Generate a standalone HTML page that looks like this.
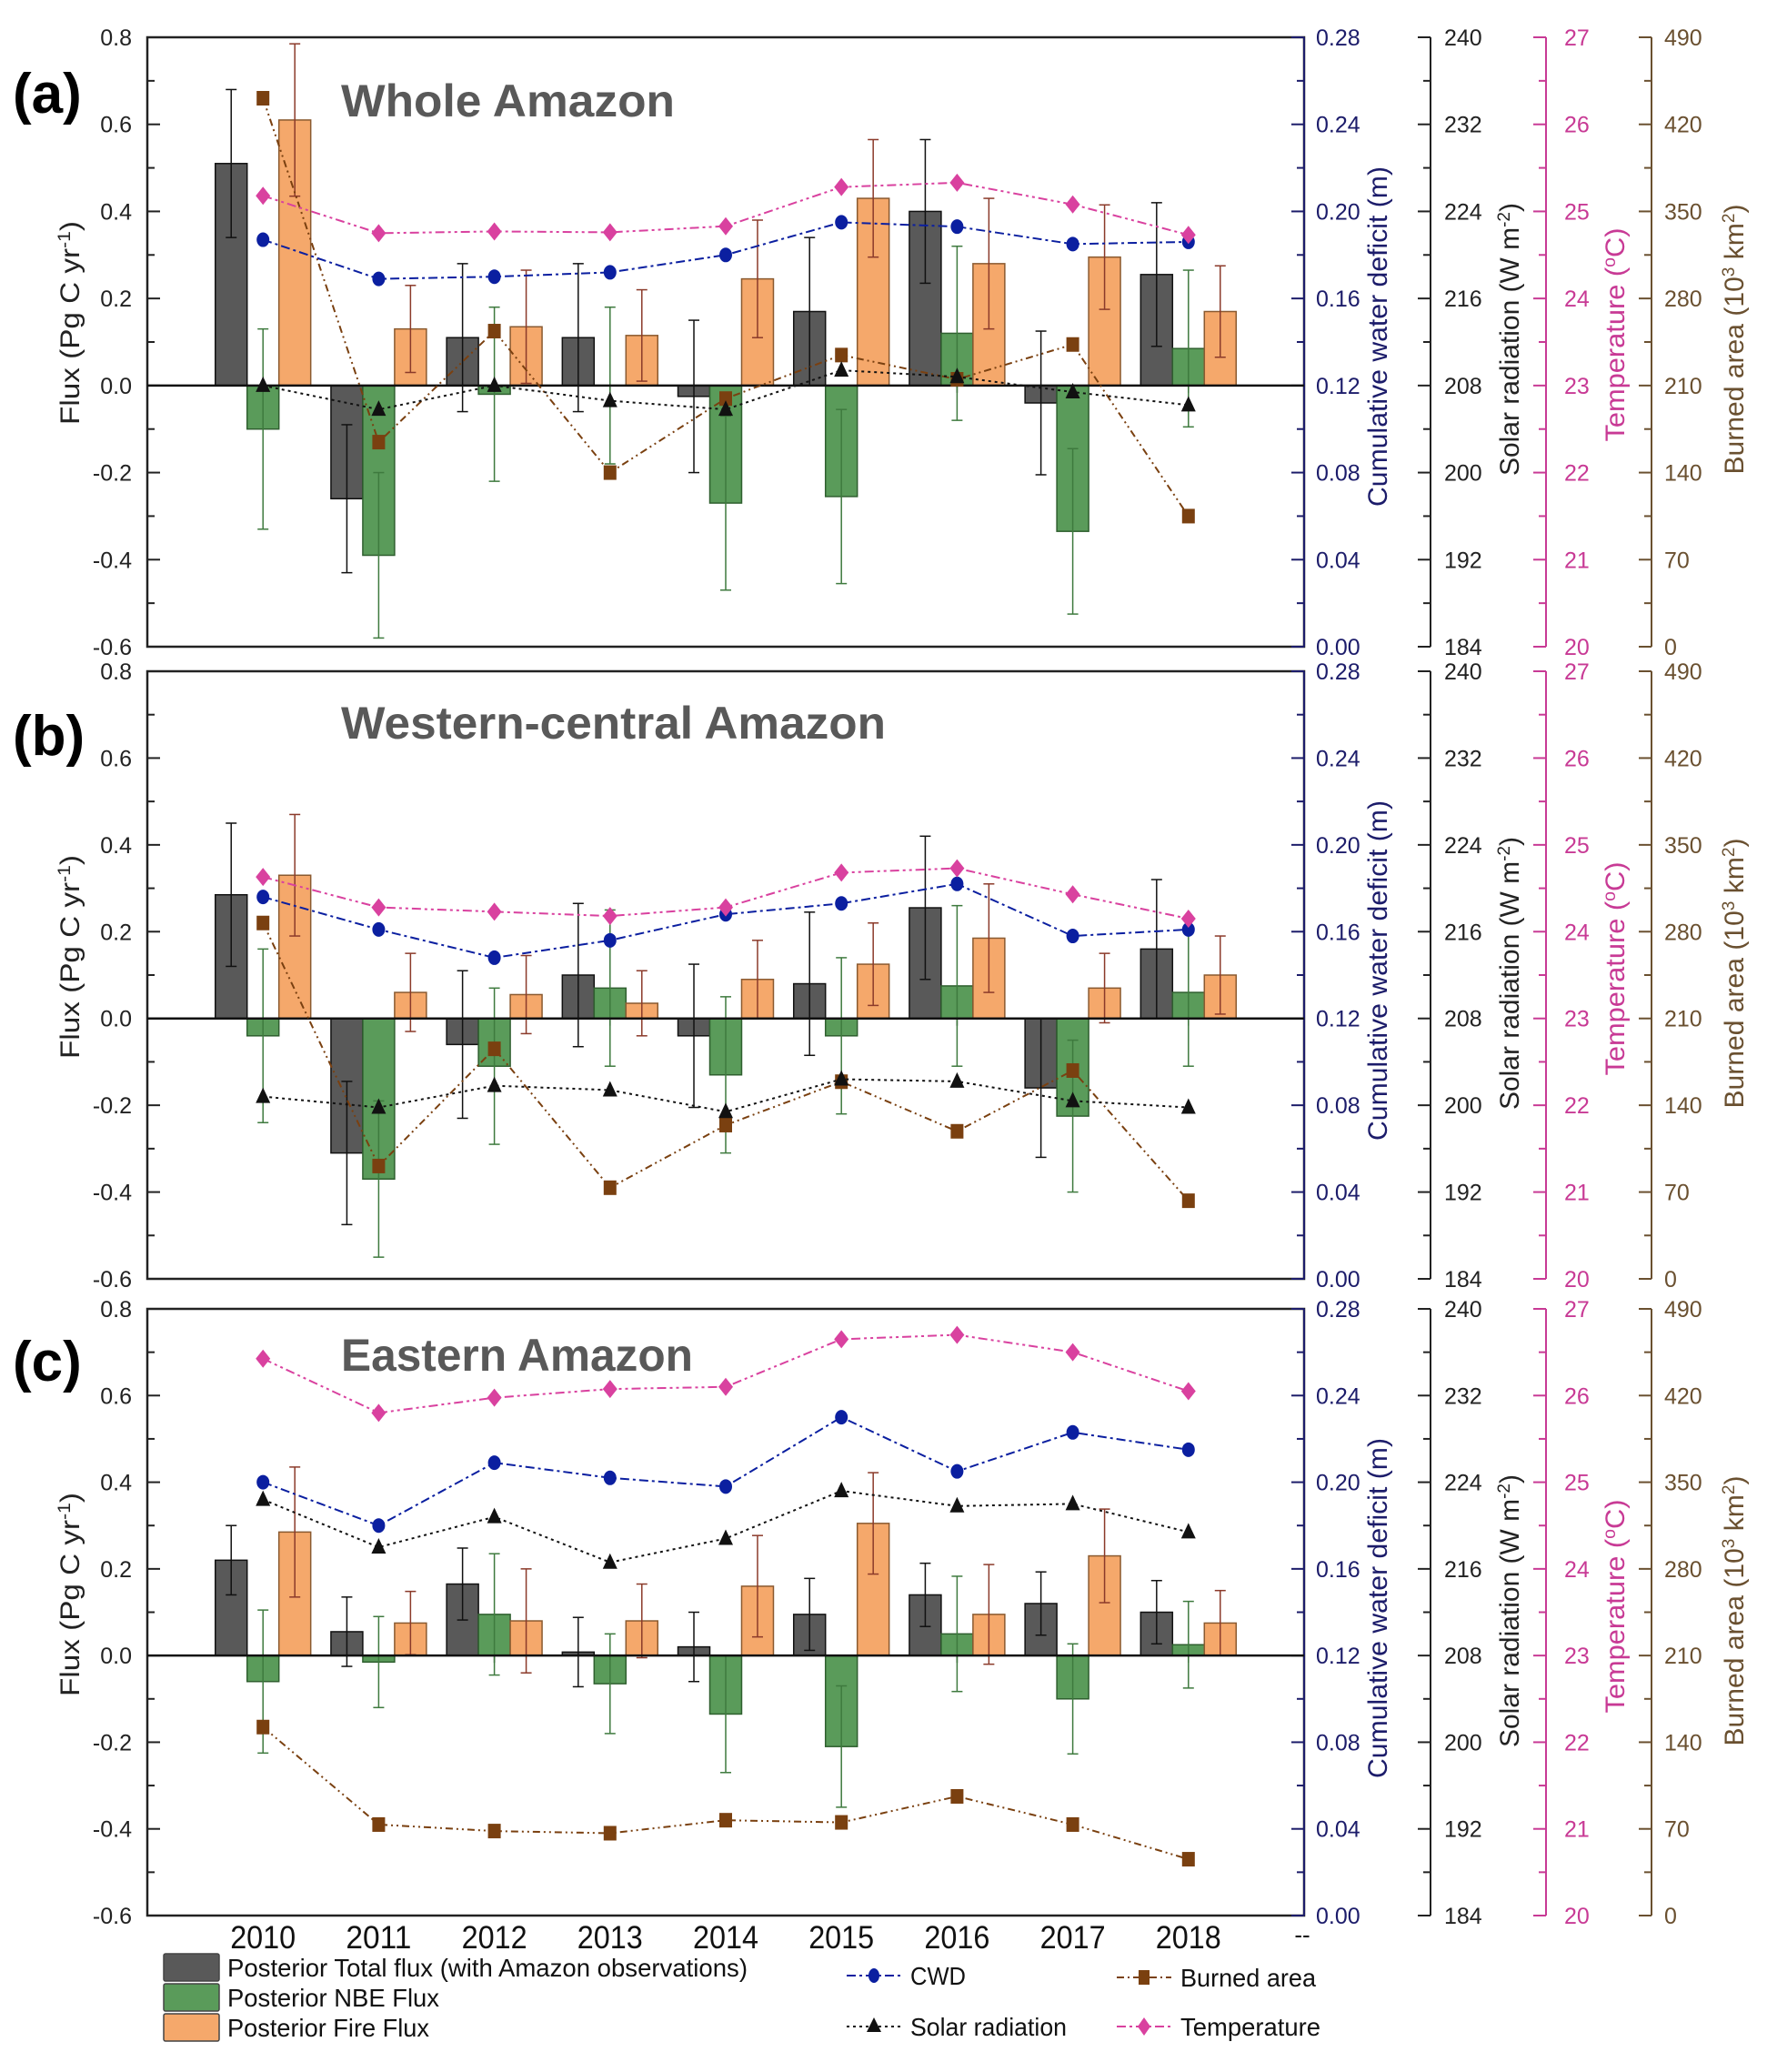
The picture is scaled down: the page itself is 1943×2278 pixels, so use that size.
<!DOCTYPE html>
<html><head><meta charset="utf-8"><style>
html,body{margin:0;padding:0;background:#fff}
svg{display:block}
text{font-family:"Liberation Sans Narrow","Liberation Sans",sans-serif}
</style></head><body>
<svg id="chart" xmlns="http://www.w3.org/2000/svg" width="1943" height="2278" viewBox="0 0 1943 2278"></svg>
<script>
const years = [2010,2011,2012,2013,2014,2015,2016,2017,2018];
const fluxTicks = [0.8,0.6,0.4,0.2,0.0,-0.2,-0.4,-0.6];
const fluxTickLabels = ["0.8","0.6","0.4","0.2","0.0","-0.2","-0.4","-0.6"];
const cwdTickLabels = ["0.28","0.24","0.20","0.16","0.12","0.08","0.04","0.00"];
const solarTickLabels = ["240","232","224","216","208","200","192","184"];
const tempTickLabels = ["27","26","25","24","23","22","21","20"];
const burnTickLabels = ["490","420","350","280","210","140","70","0"];
const panelTitles = ["Whole Amazon","Western-central Amazon","Eastern Amazon"];
const panelLetters = ["(a)","(b)","(c)"];

// Panel (a)
const totalA = [0.51,-0.26,0.11,0.11,-0.025,0.17,0.40,-0.04,0.255];
const totalErrA = [0.17,0.17,0.17,0.17,0.175,0.17,0.165,0.165,0.165];
const nbeA = [-0.10,-0.39,-0.02,0.0,-0.27,-0.255,0.12,-0.335,0.085];
const nbeErrA = [0.23,0.19,0.20,0.18,0.20,0.20,0.20,0.19,0.18];
const fireA = [0.61,0.13,0.135,0.115,0.245,0.43,0.28,0.295,0.17];
const fireErrA = [0.175,0.10,0.13,0.105,0.135,0.135,0.15,0.12,0.105];
const cwdA = [0.187,0.169,0.170,0.172,0.180,0.195,0.193,0.185,0.186];
const solarA = [208,205.8,208,206.6,205.8,209.4,208.8,207.4,206.2];
const tempA = [25.18,24.75,24.77,24.76,24.83,25.28,25.33,25.08,24.73];
const burnA = [441,164.5,253.75,140,199.5,234.5,215,243,105];
// Panel (b)
const totalB = [0.285,-0.31,-0.06,0.10,-0.04,0.08,0.255,-0.16,0.16];
const totalErrB = [0.165,0.165,0.17,0.165,0.165,0.165,0.165,0.16,0.16];
const nbeB = [-0.04,-0.37,-0.11,0.07,-0.13,-0.04,0.075,-0.225,0.06];
const nbeErrB = [0.20,0.18,0.18,0.18,0.18,0.18,0.185,0.175,0.17];
const fireB = [0.33,0.06,0.055,0.035,0.09,0.125,0.185,0.07,0.10];
const fireErrB = [0.14,0.09,0.09,0.075,0.09,0.095,0.125,0.08,0.09];
const cwdB = [0.176,0.161,0.148,0.156,0.168,0.173,0.182,0.158,0.161];
const solarB = [200.8,199.8,201.8,201.4,199.4,202.4,202.2,200.4,199.8];
const tempB = [24.63,24.28,24.23,24.18,24.28,24.68,24.73,24.43,24.15];
const burnB = [287,91,185.5,73.5,124,159,119,168,63];
// Panel (c)
const totalC = [0.22,0.055,0.165,0.008,0.02,0.095,0.14,0.12,0.10];
const totalErrC = [0.08,0.08,0.083,0.08,0.08,0.083,0.073,0.073,0.073];
const nbeC = [-0.06,-0.015,0.095,-0.065,-0.135,-0.21,0.05,-0.10,0.025];
const nbeErrC = [0.165,0.105,0.14,0.115,0.135,0.14,0.133,0.127,0.10];
const fireC = [0.285,0.075,0.08,0.08,0.16,0.305,0.095,0.23,0.075];
const fireErrC = [0.15,0.073,0.12,0.085,0.117,0.117,0.115,0.108,0.075];
const cwdC = [0.200,0.180,0.209,0.202,0.198,0.230,0.205,0.223,0.215];
const solarC = [222.4,218,220.8,216.6,218.8,223.2,221.8,222,219.4];
const tempC = [26.425,25.8,25.975,26.075,26.1,26.65,26.7,26.5,26.05];
const burnC = [152.25,73.5,68.25,66.5,77,75.25,96.25,73.5,45.5];

const panels = [
 {top:41,bottom:711,total:totalA,totalErr:totalErrA,nbe:nbeA,nbeErr:nbeErrA,fire:fireA,fireErr:fireErrA,cwd:cwdA,solar:solarA,temp:tempA,burn:burnA,letterY:124,titleY:128,titleW:367},
 {top:738,bottom:1406,total:totalB,totalErr:totalErrB,nbe:nbeB,nbeErr:nbeErrB,fire:fireB,fireErr:fireErrB,cwd:cwdB,solar:solarB,temp:tempB,burn:burnB,letterY:830,titleY:812,titleW:599},
 {top:1439,bottom:2106,total:totalC,totalErr:totalErrC,nbe:nbeC,nbeErr:nbeErrC,fire:fireC,fireErr:fireErrC,cwd:cwdC,solar:solarC,temp:tempC,burn:burnC,letterY:1518,titleY:1507,titleW:387}
];

const NS="http://www.w3.org/2000/svg";
const svg=document.getElementById('chart');
function mk(tag,attrs,parent,txt){const e=document.createElementNS(NS,tag);for(const k in attrs)e.setAttribute(k,attrs[k]);if(txt!==undefined)e.textContent=txt;(parent||svg).appendChild(e);return e;}

const X0=162,X1=1434;
const xScale=yr=>X0+(yr-2009)/(2019-2009)*(X1-X0);
const BW=0.275;
const C_TOTAL="#595959",C_NBE="#5a9b5a",C_FIRE="#f5a86b",C_CWD="#0b1fa0",C_TEMP="#d9419f",C_BURN="#7a4010",C_CWDAX="#1c1c6a",C_TEMPAX="#c83a95",C_BURNAX="#6a5030";

panels.forEach((p,pi)=>{
 const g=mk('g',{});
 
 
 const yF=v=>p.top+(0.8-v)/1.4*(p.bottom-p.top);
 const yCwd=v=>yF(v/0.2-0.6);
 const ySol=v=>yF((v-184)/40-0.6);
 const yTmp=v=>yF((v-20)/5-0.6);
 const yBrn=v=>yF(v/350-0.6);

 const fr=mk('rect',{x:X0,y:p.top,width:X1-X0,height:p.bottom-p.top,fill:'none',stroke:'#222','stroke-width':2.5},g);
 
 
 for(let i=0;i<=14;i++){const v=0.8-i*0.1;const y=yF(v);const major=i%2==0;
  mk('line',{x1:X0,x2:X0+(major?14:8),y1:y,y2:y,stroke:'#222','stroke-width':2},g);
  mk('line',{x1:X1,x2:X1-(major?14:8),y1:y,y2:y,stroke:C_CWDAX,'stroke-width':2},g);
 }
 fluxTicks.forEach((v,i)=>{const t=mk('text',{x:145,y:yF(v)+9,'text-anchor':'end','font-size':25,fill:'#222'},g,fluxTickLabels[i]);
  
  });
 for(let yr=2010;yr<=2018;yr++){const x=xScale(yr);
  mk('line',{x1:x,x2:x,y1:yF(0),y2:yF(0)+8,stroke:'#222','stroke-width':1.5},g);
 }
 mk('line',{x1:X1,x2:X1,y1:p.top,y2:p.bottom,stroke:C_CWDAX,'stroke-width':2},g);
 const axes=[[1573,'#222',solarTickLabels,1588,'solar'],[1700,C_TEMPAX,tempTickLabels,1720,'temperature'],[1816,C_BURNAX,burnTickLabels,1830,'burned-area']];
 axes.forEach(a=>{
  const ln=mk('line',{x1:a[0],x2:a[0],y1:p.top,y2:p.bottom,stroke:a[1],'stroke-width':2},g);
  
  
  for(let i=0;i<=14;i++){const y=yF(0.8-i*0.1);mk('line',{x1:a[0],x2:a[0]-(i%2==0?14:8),y1:y,y2:y,stroke:a[1],'stroke-width':2},g);}
  a[2].forEach((lab,i)=>{const t=mk('text',{x:a[3],y:yF(0.8-i*0.2)+9,'font-size':25,fill:a[1]},g,lab);
   
   });
 });
 cwdTickLabels.forEach((lab,i)=>{const t=mk('text',{x:1447,y:yF(0.8-i*0.2)+9,'font-size':25,fill:C_CWDAX},g,lab);
  
  });
 function vtitle(x,cy,color,parts,name,len){const t=mk('text',{x:0,y:0,'font-size':30,fill:color,'text-anchor':'middle',transform:`translate(${x},${cy}) rotate(-90)`,'font-family':'Liberation Sans, sans-serif',textLength:len,lengthAdjust:'spacingAndGlyphs'},g);
  
  
  parts.forEach(pt=>{mk('tspan',pt[1]?{'baseline-shift':'super','font-size':19}:{},t,pt[0]);});}
 vtitle(87,p.top+314,'#222',[["Flux (Pg C yr",0],["-1",1],[")",0]],'flux-axis-title',224);
 vtitle(1525,p.top+329,C_CWDAX,[["Cumulative water deficit (m)",0]],'cwd-axis-title',374);
 vtitle(1670,p.top+332,'#222',[["Solar radiation (W m",0],["-2",1],[")",0]],'solar-axis-title',300);
 vtitle(1786,p.top+327,C_TEMPAX,[["Temperature (",0],["o",1],["C)",0]],'temperature-axis-title',235);
 vtitle(1917,p.top+332,C_BURNAX,[["Burned area (10",0],["3",1],[" km",0],["2",1],[")",0]],'burned-area-axis-title',297);

 const series=[[p.total,p.totalErr,-BW,C_TOTAL,'#111','total-flux-bar','#111'],[p.nbe,p.nbeErr,0,C_NBE,'#2f5f2f','nbe-flux-bar','#3e7a3e'],[p.fire,p.fireErr,BW,C_FIRE,'#8a5a30','fire-flux-bar','#8b3a2a']];
 series.forEach(s=>{
  years.forEach((yr,i)=>{const v=s[0][i];const xc=xScale(yr+s[2]);const w=BW*(X1-X0)/10;
   const y0=yF(0),y1=yF(v);
   const r=mk('rect',{x:xc-w/2,y:Math.min(y0,y1),width:w,height:Math.abs(y1-y0),fill:s[3],stroke:s[4],'stroke-width':1.5},g);
   
   
  });
 });
 series.forEach(s=>{
  years.forEach((yr,i)=>{const v=s[0][i],e=s[1][i];const xc=xScale(yr+s[2]);
   const ya=yF(v+e),yb=yF(v-e);
   mk('line',{x1:xc,x2:xc,y1:ya,y2:yb,stroke:s[6],'stroke-width':1.5},g);
   mk('line',{x1:xc-6,x2:xc+6,y1:ya,y2:ya,stroke:s[6],'stroke-width':1.5},g);
   mk('line',{x1:xc-6,x2:xc+6,y1:yb,y2:yb,stroke:s[6],'stroke-width':1.5},g);
  });
 });
 mk('line',{x1:X0,x2:X1,y1:yF(0),y2:yF(0),stroke:'#111','stroke-width':2.5},g);

 const lines=[[p.burn,yBrn,C_BURN,'8 4 2 4 2 4','square','burned-area-point'],[p.solar,ySol,'#111','3 4','tri','solar-radiation-point'],[p.cwd,yCwd,C_CWD,'10 4 3 4','circ','cwd-point'],[p.temp,yTmp,C_TEMP,'10 4 3 4 3 4','diam','temperature-point']];
 lines.forEach(L=>{
  const pts=years.map((yr,i)=>xScale(yr)+','+L[1](L[0][i])).join(' ');
  const pl=mk('polyline',{points:pts,fill:'none',stroke:L[2],'stroke-width':2,'stroke-dasharray':L[3]},g);
  
  
  years.forEach((yr,i)=>{const x=xScale(yr),y=L[1](L[0][i]);let m;
   if(L[4]=='square')m=mk('rect',{x:x-7,y:y-8,width:14,height:16,fill:L[2]},g);
   else if(L[4]=='tri')m=mk('polygon',{points:`${x},${y-10} ${x-8},${y+7} ${x+8},${y+7}`,fill:L[2]},g);
   else if(L[4]=='circ')m=mk('ellipse',{cx:x,cy:y,rx:7,ry:8,fill:L[2]},g);
   else m=mk('polygon',{points:`${x},${y-10} ${x+8},${y} ${x},${y+10} ${x-8},${y}`,fill:L[2]},g);
   
   
  });
 });

 const lt=mk('text',{x:14,y:p.letterY,'font-size':62,'font-weight':'bold',fill:'#000','font-family':'Liberation Sans, sans-serif'},g,panelLetters[pi]);
 
 
 const tt=mk('text',{x:375,y:p.titleY,'font-size':50,'font-weight':'bold',fill:'#595959','font-family':'Liberation Sans, sans-serif',textLength:p.titleW,lengthAdjust:'spacingAndGlyphs'},g,panelTitles[pi]);
 
 
});

years.forEach(yr=>{const t=mk('text',{x:xScale(yr),y:2142,'text-anchor':'middle','font-size':35,fill:'#111',textLength:72,lengthAdjust:'spacingAndGlyphs'},svg,String(yr));
 
 });
mk('text',{x:1432,y:2136,'font-size':26,fill:'#111','text-anchor':'middle'},svg,'--');

const legBars=[[C_TOTAL,'Posterior Total flux (with Amazon observations)',2148,572],[C_NBE,'Posterior NBE Flux',2181,233],[C_FIRE,'Posterior Fire Flux',2214,222]];
legBars.forEach(l=>{
 const r=mk('rect',{x:180,y:l[2],width:61,height:30,fill:l[0],stroke:'#444','stroke-width':1.5,rx:2});
 
 
 const t=mk('text',{x:250,y:l[2]+25,'font-size':28,fill:'#111',textLength:l[3],lengthAdjust:'spacingAndGlyphs'},svg,l[1]);
 
 
});
const legLines=[[931,2172,C_CWD,'10 4 3 4','circ','CWD',61],[1228,2174,C_BURN,'8 4 2 4','square','Burned area',149],[931,2228,'#111','3 4','tri','Solar radiation',172],[1228,2228,C_TEMP,'10 4 3 4','diam','Temperature',154]];
legLines.forEach(l=>{
 const x=l[0],y=l[1];
 mk('line',{x1:x,x2:x+60,y1:y,y2:y,stroke:l[2],'stroke-width':2,'stroke-dasharray':l[3]});
 const cx=x+30;let m;
 if(l[4]=='square')m=mk('rect',{x:cx-6,y:y-8,width:12,height:16,fill:l[2]});
 else if(l[4]=='tri')m=mk('polygon',{points:`${cx},${y-10} ${cx-8},${y+6} ${cx+8},${y+6}`,fill:l[2]});
 else if(l[4]=='circ')m=mk('ellipse',{cx:cx,cy:y,rx:6,ry:8,fill:l[2]});
 else m=mk('polygon',{points:`${cx},${y-10} ${cx+7},${y} ${cx},${y+10} ${cx-7},${y}`,fill:l[2]});
 
 
 const t=mk('text',{x:x+70,y:y+10,'font-size':28,fill:'#111',textLength:l[6],lengthAdjust:'spacingAndGlyphs'},svg,l[5]);
 
 
});
</script>
</body></html>
